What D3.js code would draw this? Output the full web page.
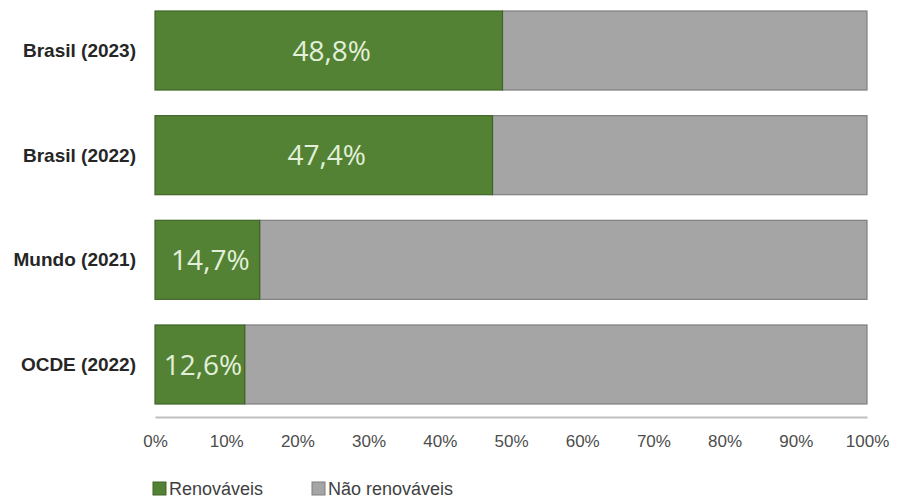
<!DOCTYPE html>
<html lang="pt">
<head>
    <meta charset="UTF-8">
    <title>Renováveis</title>
    <script src="https://d3js.org/d3.v7.min.js"></script>
    <style>
        body { margin: 0; background: #fff; }
        text { font-family: "Liberation Sans", Arial, sans-serif; }
        .cat { font-weight: bold; fill: #262626; font-size: 19px; }
        .tick text { fill: #4d4d4d; font-size: 17px; }
        .val { fill: #e2f0d9; font-family: "Open Sans", sans-serif; font-size: 28px; }
        .leg { fill: #404040; font-size: 18px; }
    </style>
</head>
<body>
<script>
    // data
    var categories = ["Brasil (2023)", "Brasil (2022)", "Mundo (2021)", "OCDE (2022)"];
    var renovaveis = [48.8, 47.4, 14.7, 12.6];
    var naoRenovaveis = [51.2, 52.6, 85.3, 87.4];
    var valueLabels = ["48,8%", "47,4%", "14,7%", "12,6%"];
    var ticks = [0, 10, 20, 30, 40, 50, 60, 70, 80, 90, 100];
    var seriesNames = ["Renováveis", "Não renováveis"];
    var colors = ["#548235", "#a5a5a5"];
    var strokes = ["#3f6428", "#7f7f7f"];

    var W = 897, H = 498;
    var svg = d3.select("body").append("svg")
        .attr("width", W).attr("height", H);

    var x = d3.scaleLinear().domain([0, 100]).range([155, 867]);
    var y = d3.scaleBand().domain(categories).range([11, 404])
        .paddingInner(0.245).paddingOuter(0);

    var rows = categories.map(function(c, i) {
        return {cat: c, r: renovaveis[i], n: naoRenovaveis[i], label: valueLabels[i]};
    });

    // gray (non renewable) segment
    svg.selectAll(".nr").data(rows).enter().append("rect")
        .attr("class", "nr")
        .attr("x", function(d) { return x(d.r); })
        .attr("y", function(d) { return y(d.cat); })
        .attr("width", function(d) { return x(d.r + d.n) - x(d.r); })
        .attr("height", y.bandwidth())
        .attr("fill", colors[1]).attr("stroke", strokes[1]).attr("stroke-width", 1.2);

    // green (renewable) segment
    svg.selectAll(".rn").data(rows).enter().append("rect")
        .attr("class", "rn")
        .attr("x", x(0))
        .attr("y", function(d) { return y(d.cat); })
        .attr("width", function(d) { return x(d.r) - x(0); })
        .attr("height", y.bandwidth())
        .attr("fill", colors[0]).attr("stroke", strokes[0]).attr("stroke-width", 1.2);

    // value labels
    svg.selectAll(".val").data(rows).enter().append("text")
        .attr("class", "val")
        .attr("x", function(d) { return (x(0) + x(d.r)) / 2 + 3; })
        .attr("y", function(d) { return y(d.cat) + y.bandwidth() / 2; })
        .attr("dy", "0.36em")
        .attr("text-anchor", "middle")
        .text(function(d) { return d.label; });

    // category labels
    svg.selectAll(".cat").data(rows).enter().append("text")
        .attr("class", "cat")
        .attr("x", 136)
        .attr("y", function(d) { return y(d.cat) + y.bandwidth() / 2; })
        .attr("dy", "0.35em")
        .attr("text-anchor", "end")
        .text(function(d) { return d.cat; });

    // x axis
    var xAxis = svg.append("g")
        .attr("transform", "translate(0,417)")
        .call(d3.axisBottom(x).tickValues(ticks)
            .tickSize(0).tickPadding(18)
            .tickFormat(function(d) { return d + "%"; }));
    xAxis.select(".domain").attr("stroke", "#bfbfbf").attr("stroke-width", 2);
    xAxis.selectAll(".tick text").attr("font-family", null);

    // legend
    var leg = svg.append("g").attr("transform", "translate(153,482)");
    var legX = [0, 159];
    seriesNames.forEach(function(s, i) {
        var g = leg.append("g").attr("transform", "translate(" + legX[i] + ",0)");
        g.append("rect").attr("width", 13).attr("height", 13)
            .attr("fill", colors[i]).attr("stroke", strokes[i]).attr("stroke-width", 1);
        g.append("text").attr("class", "leg")
            .attr("x", 16).attr("y", 13)
            .text(s);
    });
</script>
</body>
</html>
